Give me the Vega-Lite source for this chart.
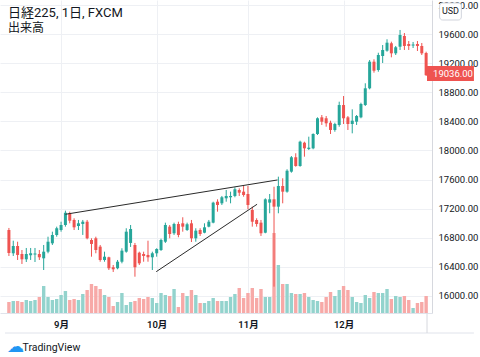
{
  "$schema": "https://vega.github.io/schema/vega-lite/v6.json",
  "width": 432,
  "height": 313,
  "autosize": {"type": "none"},
  "padding": {"left": 0, "top": 0, "right": 48, "bottom": 44},
  "background": "white",
  "config": {
    "view": {"stroke": null},
    "font": "Roboto, 'Noto Sans CJK JP', sans-serif",
    "axis": {"labelOverlap": false, "labelSeparation": 0},
    "axisY": {"labelOverlap": false, "labelSeparation": 0}
  },
  "title": {
    "text": "日経225, 1日, FXCM",
    "subtitle": "出来高",
    "anchor": "start",
    "frame": "group",
    "offset": -34,
    "dx": 8,
    "fontSize": 13,
    "fontWeight": "normal",
    "color": "#131722",
    "subtitleFontSize": 12,
    "subtitleColor": "#131722",
    "subtitlePadding": 3
  },
  "datasets": {
    "candles": [
      {"i":0,"o":16907,"h":16935,"l":16550,"c":16591,"v":11},
      {"i":1,"o":16587,"h":16760,"l":16550,"c":16687,"v":12},
      {"i":2,"o":16687,"h":16746,"l":16495,"c":16564,"v":12},
      {"i":3,"o":16577,"h":16632,"l":16440,"c":16504,"v":11},
      {"i":4,"o":16504,"h":16660,"l":16467,"c":16577,"v":13},
      {"i":5,"o":16559,"h":16660,"l":16495,"c":16587,"v":12},
      {"i":6,"o":16570,"h":16660,"l":16467,"c":16584,"v":13},
      {"i":7,"o":16577,"h":16632,"l":16495,"c":16532,"v":16},
      {"i":8,"o":16518,"h":16701,"l":16357,"c":16609,"v":27},
      {"i":9,"o":16609,"h":16815,"l":16587,"c":16746,"v":16},
      {"i":10,"o":16724,"h":16884,"l":16701,"c":16838,"v":13},
      {"i":11,"o":16838,"h":16953,"l":16815,"c":16931,"v":14},
      {"i":12,"o":16907,"h":17021,"l":16884,"c":16976,"v":18},
      {"i":13,"o":16976,"h":17173,"l":16953,"c":17145,"v":22},
      {"i":14,"o":17137,"h":17159,"l":16999,"c":17035,"v":13},
      {"i":15,"o":17045,"h":17068,"l":16907,"c":16944,"v":14},
      {"i":16,"o":16962,"h":17045,"l":16907,"c":16999,"v":13},
      {"i":17,"o":16990,"h":17045,"l":16839,"c":17021,"v":19},
      {"i":18,"o":17021,"h":17045,"l":16779,"c":16793,"v":23},
      {"i":19,"o":16770,"h":16793,"l":16540,"c":16715,"v":29},
      {"i":20,"o":16793,"h":16815,"l":16587,"c":16632,"v":27},
      {"i":21,"o":16678,"h":16701,"l":16471,"c":16495,"v":24},
      {"i":22,"o":16495,"h":16609,"l":16471,"c":16540,"v":18},
      {"i":23,"o":16532,"h":16540,"l":16357,"c":16381,"v":16},
      {"i":24,"o":16395,"h":16426,"l":16330,"c":16367,"v":7},
      {"i":25,"o":16381,"h":16495,"l":16367,"c":16471,"v":11},
      {"i":26,"o":16471,"h":16656,"l":16449,"c":16623,"v":20},
      {"i":27,"o":16609,"h":16931,"l":16595,"c":16884,"v":8},
      {"i":28,"o":16729,"h":16976,"l":16674,"c":16921,"v":11},
      {"i":29,"o":16701,"h":16729,"l":16265,"c":16395,"v":12},
      {"i":30,"o":16595,"h":16609,"l":16426,"c":16449,"v":15},
      {"i":31,"o":16577,"h":16609,"l":16471,"c":16550,"v":14},
      {"i":32,"o":16564,"h":16760,"l":16471,"c":16532,"v":16},
      {"i":33,"o":16532,"h":16609,"l":16357,"c":16587,"v":15},
      {"i":34,"o":16587,"h":16656,"l":16540,"c":16646,"v":10},
      {"i":35,"o":16632,"h":16788,"l":16619,"c":16770,"v":20},
      {"i":36,"o":16746,"h":17008,"l":16729,"c":16976,"v":18},
      {"i":37,"o":16953,"h":16976,"l":16793,"c":16852,"v":17},
      {"i":38,"o":16862,"h":17008,"l":16839,"c":16990,"v":24},
      {"i":39,"o":16990,"h":17021,"l":16807,"c":16839,"v":6},
      {"i":40,"o":16999,"h":17082,"l":16884,"c":16953,"v":20},
      {"i":41,"o":16907,"h":17008,"l":16894,"c":16986,"v":17},
      {"i":42,"o":16999,"h":17045,"l":16742,"c":16793,"v":23},
      {"i":43,"o":16793,"h":16931,"l":16746,"c":16898,"v":18},
      {"i":44,"o":16907,"h":16931,"l":16825,"c":16852,"v":10},
      {"i":45,"o":16870,"h":16999,"l":16862,"c":16944,"v":10},
      {"i":46,"o":16953,"h":17045,"l":16944,"c":17021,"v":12},
      {"i":47,"o":17008,"h":17296,"l":16999,"c":17283,"v":15},
      {"i":48,"o":17296,"h":17329,"l":17159,"c":17251,"v":12},
      {"i":49,"o":17274,"h":17375,"l":17251,"c":17357,"v":12},
      {"i":50,"o":17343,"h":17457,"l":17296,"c":17375,"v":12},
      {"i":51,"o":17357,"h":17434,"l":17274,"c":17375,"v":16},
      {"i":52,"o":17375,"h":17494,"l":17357,"c":17467,"v":19},
      {"i":53,"o":17457,"h":17480,"l":17375,"c":17420,"v":25},
      {"i":54,"o":17434,"h":17512,"l":17365,"c":17388,"v":15},
      {"i":55,"o":17402,"h":17512,"l":17192,"c":17251,"v":20},
      {"i":56,"o":17182,"h":17228,"l":16953,"c":17021,"v":25},
      {"i":57,"o":17045,"h":17068,"l":16953,"c":16990,"v":15},
      {"i":58,"o":17008,"h":17045,"l":16825,"c":16862,"v":24},
      {"i":59,"o":16870,"h":17343,"l":16862,"c":17329,"v":16},
      {"i":60,"o":17283,"h":17402,"l":17137,"c":17329,"v":16},
      {"i":61,"o":17329,"h":17502,"l":16128,"c":17228,"v":80},
      {"i":62,"o":17228,"h":17640,"l":17137,"c":17512,"v":48},
      {"i":63,"o":17512,"h":17618,"l":17274,"c":17434,"v":29},
      {"i":64,"o":17434,"h":17742,"l":17420,"c":17722,"v":29},
      {"i":65,"o":17709,"h":17924,"l":17695,"c":17907,"v":20},
      {"i":66,"o":17907,"h":17962,"l":17777,"c":17787,"v":19},
      {"i":67,"o":17787,"h":18135,"l":17777,"c":18121,"v":19},
      {"i":68,"o":18107,"h":18121,"l":17915,"c":18030,"v":20},
      {"i":69,"o":18021,"h":18190,"l":18007,"c":18039,"v":16},
      {"i":70,"o":18030,"h":18236,"l":18017,"c":18227,"v":13},
      {"i":71,"o":18227,"h":18456,"l":18213,"c":18443,"v":12},
      {"i":72,"o":18456,"h":18488,"l":18351,"c":18396,"v":11},
      {"i":73,"o":18443,"h":18474,"l":18327,"c":18374,"v":16},
      {"i":74,"o":18382,"h":18410,"l":18227,"c":18282,"v":21},
      {"i":75,"o":18282,"h":18382,"l":18258,"c":18364,"v":17},
      {"i":76,"o":18351,"h":18671,"l":18327,"c":18625,"v":23},
      {"i":77,"o":18625,"h":18749,"l":18364,"c":18443,"v":27},
      {"i":78,"o":18456,"h":18474,"l":18282,"c":18364,"v":23},
      {"i":79,"o":18364,"h":18566,"l":18236,"c":18410,"v":16},
      {"i":80,"o":18396,"h":18488,"l":18351,"c":18474,"v":11},
      {"i":81,"o":18456,"h":18657,"l":18443,"c":18639,"v":10},
      {"i":82,"o":18625,"h":18924,"l":18612,"c":18855,"v":18},
      {"i":83,"o":18855,"h":19244,"l":18841,"c":19221,"v":15},
      {"i":84,"o":19221,"h":19254,"l":19070,"c":19097,"v":21},
      {"i":85,"o":19107,"h":19344,"l":19083,"c":19313,"v":20},
      {"i":86,"o":19299,"h":19450,"l":19203,"c":19382,"v":20},
      {"i":87,"o":19372,"h":19529,"l":19358,"c":19482,"v":24},
      {"i":88,"o":19474,"h":19496,"l":19281,"c":19336,"v":14},
      {"i":89,"o":19336,"h":19437,"l":19313,"c":19419,"v":17},
      {"i":90,"o":19427,"h":19657,"l":19382,"c":19588,"v":16},
      {"i":91,"o":19574,"h":19615,"l":19382,"c":19437,"v":17},
      {"i":92,"o":19464,"h":19505,"l":19382,"c":19437,"v":13},
      {"i":93,"o":19443,"h":19492,"l":19409,"c":19457,"v":5},
      {"i":94,"o":19464,"h":19505,"l":19368,"c":19437,"v":10},
      {"i":95,"o":19437,"h":19478,"l":19313,"c":19336,"v":11},
      {"i":96,"o":19340,"h":19358,"l":19024,"c":19036,"v":17}
    ],
    "lines": [
      {"line":"upper","i":13.0,"p":17123},
      {"line":"upper","i":61.8,"p":17595},
      {"line":"lower","i":33.9,"p":16334},
      {"line":"lower","i":57.1,"p":17261}
    ]
  },
  "layer": [
    {
      "data": {"name": "candles"},
      "mark": {"type": "bar", "size": 3.4},
      "encoding": {
        "x": {
          "field": "i", "type": "quantitative",
          "scale": {"domain": [-0.9, 96.2], "nice": false, "zero": false},
          "axis": {
            "orient": "bottom",
            "values": [12, 34, 55, 77],
            "labelExpr": "datum.value == 12 ? '9月' : datum.value == 34 ? '10月' : datum.value == 55 ? '11月' : '12月'",
            "grid": true, "gridColor": "#eef0f4",
            "ticks": false, "domain": true, "domainColor": "#e0e3eb",
            "labelFontSize": 9.5, "labelColor": "#131722", "labelFontWeight": 600,
            "labelPadding": 6, "labelFlush": false,
            "title": "TradingView", "titleAnchor": "start", "titleX": 22, "titleY": 34,
            "titleFontSize": 10.5, "titleFontWeight": "normal", "titleColor": "#131722",
            "titleBaseline": "middle", "titleAlign": "left"
          }
        },
        "y": {"field": "v", "type": "quantitative", "scale": {"domain": [0, 313], "nice": false}, "axis": null},
        "color": {"condition": {"test": "datum.c >= datum.o", "value": "#93d3cd"}, "value": "#f7a9a7"}
      }
    },
    {
      "layer": [
        {
          "data": {"name": "candles"},
          "mark": {"type": "rule", "strokeWidth": 1},
          "encoding": {
            "x": {"field": "i", "type": "quantitative", "scale": {"domain": [-0.9, 96.2], "nice": false, "zero": false}},
            "y": {
              "field": "l", "type": "quantitative",
              "scale": {"domain": [15766, 20069], "nice": false, "zero": false},
              "axis": {
                "orient": "right",
                "values": [16000, 16400, 16800, 17200, 17600, 18000, 18400, 18800, 19200, 19600, 20000],
                "tickCount": 11,
                "format": ".2f",
                "grid": true, "gridColor": "#eef0f4",
                "ticks": false, "domain": true, "domainColor": "#d6d8de",
                "labelFontSize": 9.5, "labelColor": "#131722", "labelPadding": 6,
                "labelOverlap": false, "labelSeparation": 0, "labelBound": false,
                "title": null
              }
            },
            "y2": {"field": "h"},
            "color": {"condition": {"test": "datum.c >= datum.o", "value": "#26a69a"}, "value": "#ef5350"}
          }
        },
        {
          "data": {"name": "candles"},
          "mark": {"type": "bar", "size": 3},
          "encoding": {
            "x": {"field": "i", "type": "quantitative"},
            "y": {"field": "o", "type": "quantitative"},
            "y2": {"field": "c"},
            "color": {"condition": {"test": "datum.c >= datum.o", "value": "#26a69a"}, "value": "#ef5350"}
          }
        },
        {
          "data": {"name": "lines"},
          "mark": {"type": "line", "color": "#2a2a2a", "strokeWidth": 1},
          "encoding": {
            "x": {"field": "i", "type": "quantitative"},
            "y": {"field": "p", "type": "quantitative"},
            "detail": {"field": "line"}
          }
        },
        {
          "data": {"values": [{}]},
          "mark": {"type": "rule", "color": "#e0e3eb", "strokeWidth": 1, "clip": false},
          "encoding": {
            "x": {"datum": -0.9, "type": "quantitative"},
            "x2": {"datum": 107},
            "y": {"datum": 15491, "type": "quantitative"}
          }
        },
        {
          "data": {"values": [{}]},
          "mark": {"type": "rule", "color": "#d6d8de", "strokeWidth": 1, "clip": false},
          "encoding": {
            "x": {"datum": 96.2, "type": "quantitative"},
            "y": {"datum": 15766, "type": "quantitative"},
            "y2": {"datum": 15491}
          }
        },
        {
          "data": {"values": [{"label": "☁"}]},
          "mark": {"type": "text", "align": "center", "baseline": "middle", "color": "#2196f3", "fontSize": 17, "font": "DejaVu Sans", "clip": false},
          "encoding": {
            "x": {"datum": 1.6, "type": "quantitative"},
            "y": {"datum": 15299, "type": "quantitative"},
            "text": {"field": "label"}
          }
        },
        {
          "data": {"values": [{}]},
          "mark": {"type": "rect", "color": "#ef5350", "clip": false},
          "encoding": {
            "x": {"datum": 96.2, "type": "quantitative"},
            "x2": {"datum": 107},
            "y": {"datum": 18955, "type": "quantitative"},
            "y2": {"datum": 19162}
          }
        },
        {
          "data": {"values": [{"label": "19036.00"}]},
          "mark": {"type": "text", "align": "left", "baseline": "middle", "color": "white", "fontSize": 9.5, "clip": false},
          "encoding": {
            "x": {"datum": 97.6, "type": "quantitative"},
            "y": {"datum": 19058, "type": "quantitative"},
            "text": {"field": "label"}
          }
        },
        {
          "data": {"values": [{}]},
          "mark": {"type": "rect", "fill": "white", "stroke": "#d1d4dc", "strokeWidth": 1, "cornerRadius": 3, "clip": false},
          "encoding": {
            "x": {"datum": 99.1, "type": "quantitative"},
            "x2": {"datum": 104.1},
            "y": {"datum": 19794, "type": "quantitative"},
            "y2": {"datum": 20028}
          }
        },
        {
          "data": {"values": [{"label": "USD"}]},
          "mark": {"type": "text", "align": "center", "baseline": "middle", "color": "#131722", "fontSize": 9, "clip": false},
          "encoding": {
            "x": {"datum": 101.6, "type": "quantitative"},
            "y": {"datum": 19911, "type": "quantitative"},
            "text": {"field": "label"}
          }
        }
      ]
    }
  ],
  "resolve": {"scale": {"y": "independent"}}
}
